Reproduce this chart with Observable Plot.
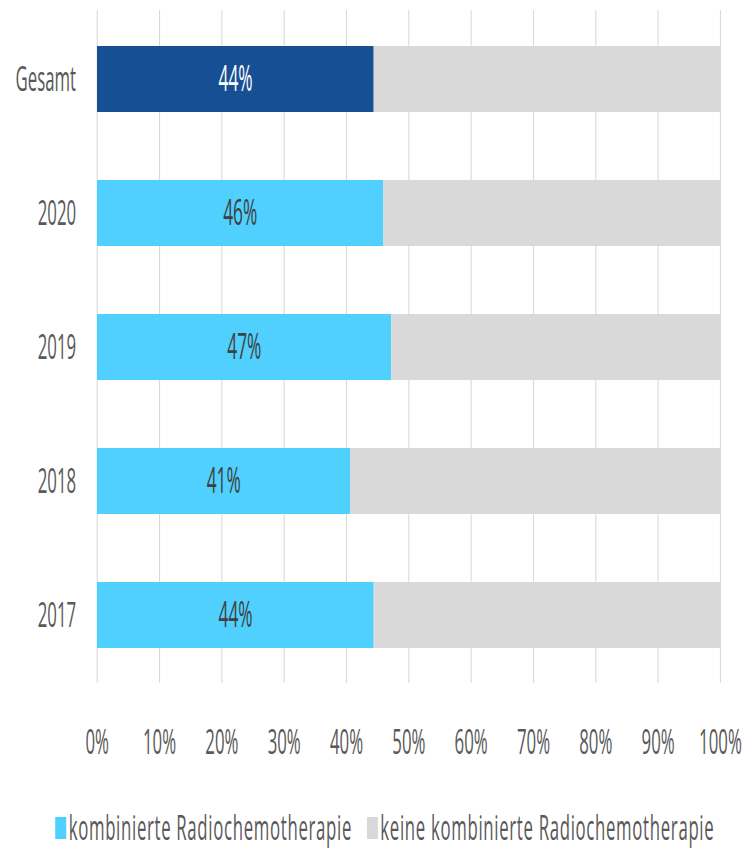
<!DOCTYPE html>
<html>
<head>
<meta charset="utf-8">
<script src="https://cdn.jsdelivr.net/npm/d3@7"></script>
<script src="https://cdn.jsdelivr.net/npm/@observablehq/plot@0.6"></script>
<style>
  html, body { margin: 0; padding: 0; background: #fff; }
  svg { display: block; }
</style>
</head>
<body>
<div id="chart"></div>
<script>
const categories = ["Gesamt", "2020", "2019", "2018", "2017"];
const shares = [44.4, 45.9, 47.2, 40.6, 44.4];
const shareLabels = ["44%", "46%", "47%", "41%", "44%"];
const seriesNames = ["kombinierte Radiochemotherapie", "keine kombinierte Radiochemotherapie"];
const seriesColors = ["#4FD0FE", "#D9D9D9"];
const totalColor = "#164F93";
const xTicks = [0, 10, 20, 30, 40, 50, 60, 70, 80, 90, 100];

const SQUISH = 0.48;
const OUT_W = 749;
const H = 850;
const VW = Math.round(OUT_W / SQUISH);

const rows = [];
categories.forEach((c, i) => {
  rows.push({cat: c, kind: c === "Gesamt" ? "total" : "combined", value: shares[i], label: shareLabels[i]});
});
categories.forEach((c, i) => {
  rows.push({cat: c, kind: "none", value: 100 - shares[i]});
});
const combinedRows = rows.filter(d => d.kind !== "none");

const chart = Plot.plot({
  width: VW,
  height: H,
  marginLeft: 202,
  marginRight: VW - 1500,
  marginTop: 10,
  marginBottom: H - 683,
  style: {fontFamily: "Open Sans, sans-serif", fontSize: "35px", color: "#595959", background: "#fff"},
  x: {domain: [0, 100], axis: null, label: null},
  y: {domain: categories, paddingInner: 0.51, paddingOuter: 0.255, axis: null, label: null},
  color: {domain: ["total", "combined", "none"], range: [totalColor, seriesColors[0], seriesColors[1]]},
  marks: [
    Plot.gridX(xTicks, {stroke: "#D9D9D9", strokeOpacity: 1, strokeWidth: 2.2}),
    Plot.barX(rows, Plot.stackX({x: "value", y: "cat", fill: "kind", order: null})),
    Plot.axisX(xTicks, {tickSize: 0, tickPadding: 46, tickFormat: d => d + "%", fontSize: 35, fill: "#595959", label: null}),
    Plot.axisY({tickSize: 0, tickPadding: 44, fontSize: 35, fill: "#595959", label: null}),
    Plot.text(combinedRows.filter(d => d.kind === "total"), {x: d => d.value / 2, y: "cat", text: "label", fill: "#ffffff", fontSize: 36}),
    Plot.text(combinedRows.filter(d => d.kind === "combined"), {x: d => d.value / 2, y: "cat", text: "label", fill: "#404040", fontSize: 36})
  ]
});
chart.setAttribute("viewBox", `0 0 ${VW} ${H}`);
chart.setAttribute("width", OUT_W);
chart.setAttribute("height", H);
chart.setAttribute("preserveAspectRatio", "none");
chart.style.width = OUT_W + "px";
chart.style.height = H + "px";
chart.style.maxWidth = "none";
document.getElementById("chart").appendChild(chart);

// Legend below the plot area, same horizontal squish
const leg = d3.select(chart).append("g")
  .attr("font-family", "Open Sans, sans-serif")
  .attr("font-size", 35)
  .attr("text-anchor", "start")
  .attr("letter-spacing", 1.4);
let lx = 115;
const ly = 828;
seriesNames.forEach((name, i) => {
  leg.append("rect").attr("x", lx).attr("y", ly - 11).attr("width", 23).attr("height", 22).attr("fill", seriesColors[i]);
  lx += 28;
  const t = leg.append("text").attr("x", lx).attr("y", ly).attr("dy", "0.35em")
    .attr("text-anchor", "start").attr("fill", "#595959").text(name);
  lx += t.node().getComputedTextLength() + 31;
});
</script>
</body>
</html>
